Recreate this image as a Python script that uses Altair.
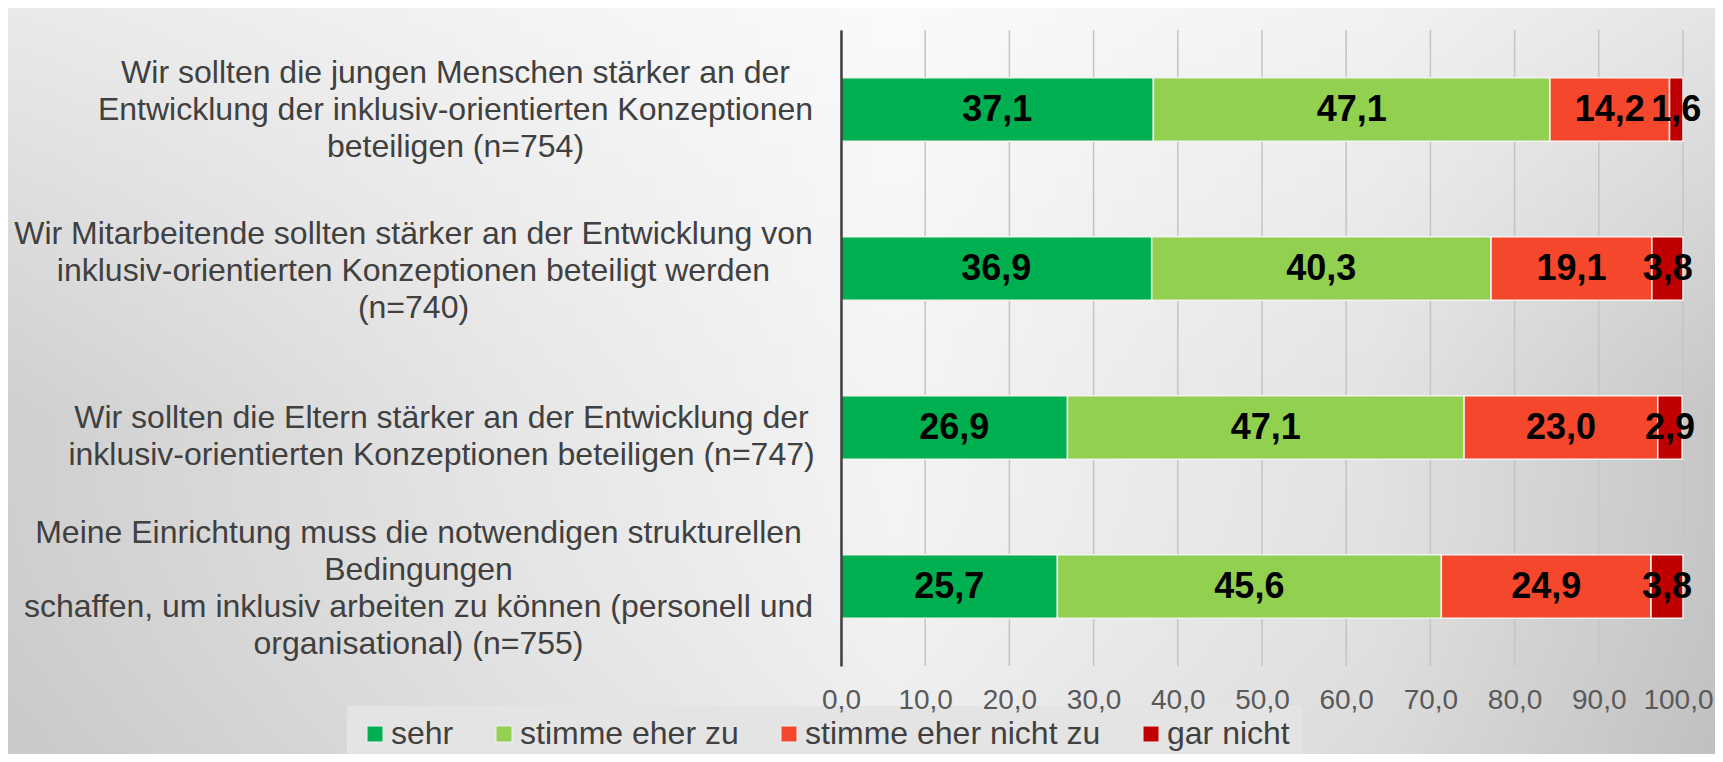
import altair as alt
import pandas as pd

items = [
    "Wir sollten die jungen Menschen stärker an der|Entwicklung der inklusiv-orientierten Konzeptionen|beteiligen (n=754)",
    "Wir Mitarbeitende sollten stärker an der Entwicklung von|inklusiv-orientierten Konzeptionen  beteiligt werden|(n=740)",
    "Wir sollten die Eltern stärker an der Entwicklung der|inklusiv-orientierten Konzeptionen beteiligen (n=747)",
    "Meine Einrichtung muss die notwendigen strukturellen|Bedingungen|schaffen, um inklusiv arbeiten zu können (personell und|organisational) (n=755)",
]
answers = ["sehr", "stimme eher zu", "stimme eher nicht zu", "gar nicht"]
sehr = [37.1, 36.9, 26.9, 25.7]
eher_zu = [47.1, 40.3, 47.1, 45.6]
eher_nicht = [14.2, 19.1, 23.0, 24.9]
gar_nicht = [1.6, 3.8, 2.9, 3.8]
colors = ["#00B050", "#92D050", "#F4472B", "#C00000"]
x_ticks = [0, 10, 20, 30, 40, 50, 60, 70, 80, 90, 100]

# per-label placement of the wrapped category text (layout only)
label_pad = [386, 428, 400, 423]
label_shift = [-37, -35, -10, -54]

series = [sehr, eher_zu, eher_nicht, gar_nicht]
rows = []
for i, item in enumerate(items):
    for j, ans in enumerate(answers):
        v = series[j][i]
        rows.append({"item": item, "answer": ans, "order": j, "value": v,
                     "label": f"{v:.1f}".replace(".", ",")})
df = pd.DataFrame(rows)
ticks_df = pd.DataFrame({"tick": x_ticks})

FONT = "Liberation Sans"
W, H = 842, 636

xscale = alt.Scale(domain=[0, 100], nice=False, clamp=True)

bg = alt.Chart(pd.DataFrame({"k": [0]})).mark_rect(
    fill=alt.LinearGradient(
        gradient="linear", x1=0, y1=0, x2=1, y2=0,
        stops=[alt.GradientStop(color="#cfcfcf", offset=0),
               alt.GradientStop(color="#e6e6e6", offset=0.3),
               alt.GradientStop(color="#f4f4f4", offset=0.52),
               alt.GradientStop(color="#e2e2e2", offset=0.8),
               alt.GradientStop(color="#c6c6c6", offset=1)]),
).encode(x=alt.value(-833), x2=alt.value(W + 32), y=alt.value(-22), y2=alt.value(H + 88))

shade = alt.Chart(pd.DataFrame({"k": [0]})).mark_rect(
    fill=alt.LinearGradient(
        gradient="linear", x1=0, y1=0, x2=0, y2=1,
        stops=[alt.GradientStop(color="rgba(255,255,255,0.55)", offset=0),
               alt.GradientStop(color="rgba(255,255,255,0.0)", offset=0.55),
               alt.GradientStop(color="rgba(0,0,0,0.03)", offset=1)]),
).encode(x=alt.value(-833), x2=alt.value(W + 32), y=alt.value(-22), y2=alt.value(H + 88))

grid = alt.Chart(ticks_df).mark_rule(color="#c4c4c4", strokeWidth=1.5).encode(
    x=alt.X("tick:Q", scale=xscale),
    y=alt.value(0), y2=alt.value(H),
)

base = alt.Chart(df).transform_stack(
    stack="value", as_=["x0", "x1"], groupby=["item"],
    sort=[alt.SortField("order", order="ascending")]
).transform_calculate(mid="(datum.x0 + datum.x1) / 2")

pad_cond = {"condition": [{"test": f"datum.value === '{it}'", "value": p}
                          for it, p in zip(items, label_pad)], "value": 410}
off_cond = {"condition": [{"test": f"datum.value === '{it}'", "value": s}
                          for it, s in zip(items, label_shift)], "value": 0}
xoff_cond = {"condition": {"test": "datum.value === 100", "value": -5}, "value": 0}

yenc = alt.Y("item:N", sort=items,
             scale=alt.Scale(paddingInner=0.6, paddingOuter=0.3),
             axis=alt.Axis(title=None, labelExpr="split(datum.label, '|')",
                           labelFont=FONT, labelFontSize=32, labelLineHeight=37,
                           labelColor="#404040", labelAlign="center",
                           labelBaseline="middle", labelPadding=pad_cond,
                           labelOffset=off_cond, labelLimit=0,
                           ticks=False, grid=False, domain=True,
                           domainColor="#404040", domainWidth=2.5, zindex=1))

bars = base.mark_bar(stroke="#f2f2f2", strokeWidth=1.5).encode(
    x=alt.X("x0:Q", scale=xscale,
            axis=alt.Axis(title=None, values=x_ticks,
                          labelExpr="replace(format(datum.value, '.1f'), '.', ',')",
                          labelFont=FONT, labelFontSize=28, labelColor="#595959",
                          labelPadding=20, labelOverlap=False, labelFlush=False,
                          labelOffset=xoff_cond,
                          ticks=False, domain=False, grid=False, zindex=1)),
    x2="x1:Q",
    y=yenc,
    color=alt.Color("answer:N", sort=answers,
                    scale=alt.Scale(domain=answers, range=colors),
                    legend=alt.Legend(title=None, orient="none", direction="horizontal",
                                      legendX=-494, legendY=676,
                                      labelFont=FONT, labelFontSize=32, labelColor="#404040",
                                      symbolType="square", symbolSize=256,
                                      symbolStrokeColor="#f0f0f0", symbolStrokeWidth=1,
                                      labelOffset=0, columnPadding=34, padding=12,
                                      fillColor="#e4e4e4", labelLimit=0)),
)

texts = base.mark_text(font=FONT, fontSize=36, fontWeight="bold", color="#000000",
                       align="center", baseline="middle").encode(
    x=alt.X("mid:Q"),
    y=alt.Y("item:N", sort=items),
    text=alt.Text("label:N"),
)

chart = alt.layer(bg, shade, grid, bars, texts).properties(
    width=W, height=H,
    padding={"left": 833, "top": 22, "right": 32, "bottom": 88},
    autosize=alt.AutoSizeParams(type="none"),
    background="#dcdcdc",
).configure_view(stroke=None, fill=None)

chart.save("out.html", embed_options={"renderer": "svg", "actions": False})
